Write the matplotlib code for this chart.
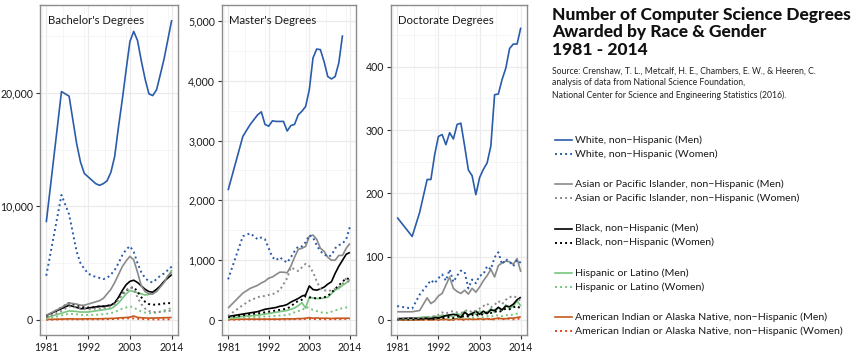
import numpy as np
import matplotlib
matplotlib.use("Agg")
import matplotlib.pyplot as plt
from matplotlib.lines import Line2D
from matplotlib.ticker import FuncFormatter, MultipleLocator

nan = np.nan
FONT = ["Lato", "DejaVu Sans"]
plt.rcParams["font.family"] = FONT

YEARS = [1981, 1985, 1987] + list(range(1989, 2015))

# Bachelor's degrees
B_WM = [8600, 20100, 19700, 15500, 13900, 12900, 12600, 12300, 12000, 11850, 12000, 12250, 13000, 14400,
        17000, 19400, 22000, 24500, 25400, 24600, 22800, 21200, 19900, 19750, 20250, 21600, 23000, 24700, 26400]
B_WW = [3900, 11000, 9300, 6000, 5000, 4500, 4100, 3900, 3800, 3700, 3600, 3700, 4000, 4400,
        5000, 5700, 6200, 6500, 6000, 5000, 4200, 3700, 3400, 3300, 3600, 3900, 4100, 4400, 4700]
B_AM = [400, 1100, 1500, 1400, 1300, 1300, 1400, 1500, 1600, 1700, 1900, 2300, 2700, 3300,
        4000, 4700, 5200, 5600, 5300, 4200, 3000, 2500, 2300, 2300, 2500, 2900, 3300, 3900, 4200]
B_AW = [200, 800, 1200, 1100, 1000, 1000, 950, 950, 1000, 1000, 1050, 1100, 1200, 1400,
        1800, 2200, 2600, 2900, 2700, 2000, 1400, 1000, 800, 700, 700, 700, 750, 800, 800]
B_BM = [400, 1000, 1300, 1100, 1000, 1000, 1050, 1100, 1150, 1200, 1200, 1250, 1300, 1500,
        2000, 2600, 3100, 3400, 3500, 3300, 3000, 2700, 2500, 2450, 2700, 3000, 3400, 3700, 4000]
B_BW = [300, 1100, 1500, 1300, 1200, 1100, 1100, 1100, 1150, 1200, 1200, 1250, 1300, 1500,
        1900, 2300, 2600, 2800, 2900, 2500, 2000, 1600, 1400, 1350, 1350, 1400, 1450, 1500, 1450]
B_HM = [200, 600, 800, 750, 700, 700, 700, 750, 800, 850, 900, 950, 1000, 1200,
        1500, 1900, 2300, 2600, 2500, 2400, 2300, 2200, 2250, 2300, 2600, 3000, 3400, 3800, 4400]
B_HW = [100, 400, 550, 500, 450, 450, 450, 450, 450, 500, 500, 550, 600, 700,
        850, 1000, 1100, 1200, 1100, 900, 750, 650, 600, 600, 650, 750, 850, 950, 1050]
B_IM = [50, 80, 100, 90, 90, 100, 100, 110, 110, 110, 120, 130, 140, 150,
        180, 200, 220, 250, 350, 230, 200, 180, 170, 170, 180, 190, 200, 210, 220]
B_IW = [20, 50, 60, 55, 55, 55, 60, 60, 60, 65, 70, 75, 80, 90,
        110, 130, 140, 150, 140, 110, 90, 70, 60, 55, 55, 55, 60, 60, 60]

# Master's degrees
M_WM = [2170, 3070, 3270, 3430, 3480, 3270, 3240, 3330, 3320, 3320, 3320, 3160, 3250, 3270,
        3430, 3490, 3570, 3850, 4380, 4530, 4520, 4320, 4070, 4030, 4070, 4300, 4760, nan, nan]
M_WW = [680, 1400, 1450, 1350, 1380, 1350, 1200, 1050, 1000, 1050, 1000, 960, 1050, 1150,
        1230, 1230, 1300, 1420, 1380, 1250, 1150, 1100, 1060, 1080, 1200, 1250, 1280, 1350, 1560]
M_AM = [200, 450, 530, 580, 620, 650, 700, 720, 760, 800, 800, 790, 900, 1050,
        1180, 1200, 1230, 1400, 1420, 1350, 1200, 1150, 1050, 1000, 1000, 1080, 1080, 1200, 1280]
M_AW = [70, 250, 330, 380, 400, 400, 420, 430, 460, 500, 600, 700, 880, 850,
        820, 880, 940, 900, 800, 650, 520, 500, 480, 500, 520, 550, 600, 700, 600]
M_BM = [60, 100, 120, 140, 160, 180, 190, 200, 210, 230, 240, 260, 300, 330,
        360, 400, 420, 570, 510, 500, 520, 550, 600, 640, 780, 900, 1000, 1100, 1130]
M_BW = [50, 80, 100, 110, 120, 130, 140, 150, 160, 170, 180, 190, 230, 280,
        320, 340, 400, 380, 370, 360, 370, 380, 400, 460, 520, 580, 640, 700, 680]
M_HM = [30, 60, 70, 80, 90, 100, 110, 120, 130, 140, 150, 160, 180, 200,
        240, 290, 200, 380, 370, 360, 360, 370, 380, 440, 500, 530, 580, 620, 680]
M_HW = [20, 40, 50, 50, 55, 60, 60, 65, 70, 75, 80, 85, 100, 130,
        150, 160, 220, 200, 170, 150, 130, 120, 120, 140, 160, 180, 200, 210, 220]
M_IM = [10, 15, 15, 15, 15, 15, 15, 15, 15, 15, 20, 20, 20, 20,
        25, 25, 30, 40, 30, 35, 30, 30, 30, 25, 30, 30, 30, 30, 30]
M_IW = [5, 10, 10, 10, 10, 10, 10, 10, 10, 10, 10, 10, 15, 15,
        15, 15, 20, 20, 20, 15, 15, 15, 15, 15, 15, 15, 15, 20, 20]

# Doctorate degrees
D_WM = [162, 132, 170, 222, 222, 261, 290, 293, 277, 296, 286, 309, 311, 275,
        237, 228, 198, 225, 238, 248, 275, 356, 357, 380, 398, 429, 436, 436, 462]
D_WW = [22, 18, 40, 55, 63, 58, 66, 72, 62, 80, 60, 70, 78, 76,
        50, 64, 58, 70, 72, 85, 80, 99, 107, 88, 96, 92, 85, 95, 90]
D_AM = [13, 13, 15, 35, 26, 30, 38, 42, 55, 68, 50, 45, 42, 47,
        41, 50, 44, 52, 62, 70, 80, 68, 86, 90, 93, 92, 88, 97, 76]
D_AW = [2, 3, 3, 4, 5, 6, 8, 12, 10, 13, 14, 12, 11, 14,
        16, 12, 15, 18, 22, 26, 20, 24, 30, 25, 32, 36, 38, 35, 30]
D_BM = [2, 3, 2, 3, 2, 4, 3, 5, 7, 8, 9, 8, 4, 12,
        8, 10, 14, 9, 14, 10, 16, 15, 20, 16, 22, 21, 25, 32, 36]
D_BW = [1, 1, 2, 2, 1, 2, 3, 3, 4, 5, 3, 6, 5, 7,
        6, 8, 7, 10, 8, 12, 11, 14, 12, 15, 18, 17, 20, 22, 18]
D_HM = [2, 2, 4, 5, 4, 6, 5, 8, 6, 7, 5, 10, 8, 14,
        6, 12, 9, 14, 10, 12, 18, 12, 20, 15, 24, 18, 22, 30, 22]
D_HW = [0, 1, 1, 2, 1, 2, 2, 3, 2, 3, 2, 4, 3, 5,
        3, 4, 5, 6, 4, 6, 5, 8, 7, 6, 8, 7, 9, 10, 12]
D_IM = [0, 0, 0, 1, 0, 1, 0, 1, 1, 0, 1, 2, 1, 1,
        2, 1, 1, 2, 1, 2, 1, 2, 3, 2, 2, 3, 3, 4, 5]
D_IW = [0, 0, 0, 0, 1, 0, 0, 1, 0, 1, 0, 1, 1, 0,
        1, 1, 2, 1, 1, 2, 1, 1, 2, 1, 2, 2, 1, 2, 2]

LABELS = [
    "White, non\u2212Hispanic (Men)", "White, non\u2212Hispanic (Women)",
    "Asian or Pacific Islander, non\u2212Hispanic (Men)", "Asian or Pacific Islander, non\u2212Hispanic (Women)",
    "Black, non\u2212Hispanic (Men)", "Black, non\u2212Hispanic (Women)",
    "Hispanic or Latino (Men)", "Hispanic or Latino (Women)",
    "American Indian or Alaska Native, non\u2212Hispanic (Men)",
    "American Indian or Alaska Native, non\u2212Hispanic (Women)",
]
COLORS = ["#2a5caa", "#2a5caa", "#8a8a8a", "#8a8a8a", "#000000", "#000000",
          "#78c67f", "#78c67f", "#c45a1e", "#e8401c"]
DOT = (0, (1, 1.6))
STYLES = ["-", DOT] * 5

PANELS = [
    ("Bachelor's Degrees", [B_WM, B_WW, B_AM, B_AW, B_BM, B_BW, B_HM, B_HW, B_IM, B_IW],
     (-1320, 27720), 10000, 5000),
    ("Master's Degrees", [M_WM, M_WW, M_AM, M_AW, M_BM, M_BW, M_HM, M_HW, M_IM, M_IW],
     (-250, 5266), 1000, 500),
    ("Doctorate Degrees", [D_WM, D_WW, D_AM, D_AW, D_BM, D_BW, D_HM, D_HW, D_IM, D_IW],
     (-23.7, 497.7), 100, 50),
]
BOXES = [(40, 138), (222, 134), (391, 136)]

W, H = 856, 353
fig = plt.figure(figsize=(W / 100, H / 100), dpi=100)
fig.patch.set_facecolor("white")

for (title, series, ylim, major, minor), (left, width) in zip(PANELS, BOXES):
    ax = fig.add_axes([left / W, 18 / H, width / W, 330 / H])
    ax.set_facecolor("white")
    for vals, col, ls in reversed(list(zip(series, COLORS, STYLES))):
        ax.plot(YEARS, vals, color=col, linestyle=ls, lw=1.2 if ls == "-" else 1.4,
                solid_capstyle="butt")
    ax.set_xlim(1981 - 1.65, 2014 + 1.65)
    ax.set_ylim(*ylim)
    ax.set_xticks([1981, 1992, 2003, 2014])
    ax.xaxis.set_minor_locator(MultipleLocator(5.5))
    ax.yaxis.set_major_locator(MultipleLocator(major))
    ax.yaxis.set_minor_locator(MultipleLocator(minor))
    ax.yaxis.set_major_formatter(FuncFormatter(lambda v, p: f"{v:,.0f}"))
    ax.grid(which="major", color="#ebebeb", lw=0.9)
    ax.grid(which="minor", color="#f4f4f4", lw=0.6)
    ax.set_axisbelow(True)
    ax.tick_params(which="major", length=3, width=0.8, color="#333333",
                   labelsize=7.6, labelcolor="#1a1a1a", pad=2)
    ax.tick_params(which="minor", length=0)
    for sp in ax.spines.values():
        sp.set_color("#8c8c8c")
        sp.set_linewidth(1.0)
    ax.text(0.055, 0.97, title, transform=ax.transAxes, fontsize=8.2,
            color="#1a1a1a", ha="left", va="top")

fig.text(552 / W, 1 - 7 / H,
         "Number of Computer Science Degrees\nAwarded by Race & Gender\n1981 - 2014",
         fontsize=12.5, fontweight="black", color="#111111", ha="left", va="top",
         linespacing=1.1)
fig.text(552 / W, 1 - 67 / H,
         "Source: Crenshaw, T. L., Metcalf, H. E., Chambers, E. W., & Heeren, C.\n"
         "analysis of data from National Science Foundation,\n"
         "National Center for Science and Engineering Statistics (2016).",
         fontsize=6.2, color="#222222", ha="left", va="top", linespacing=1.35)

# legend, drawn by hand so the pairs sit in separate groups
for i, (lab, col, ls) in enumerate(zip(LABELS, COLORS, STYLES)):
    y = 140 + (i // 2) * 44.3 + (i % 2) * 14
    fig.add_artist(Line2D([555 / W, 572 / W], [1 - y / H, 1 - y / H], color=col,
                          linestyle=ls, lw=1.2 if ls == "-" else 1.4))
    fig.text(575 / W, 1 - y / H, lab, fontsize=7.55, color="#1a1a1a",
             ha="left", va="center")

fig.savefig("out.png", dpi=100, facecolor="white")
